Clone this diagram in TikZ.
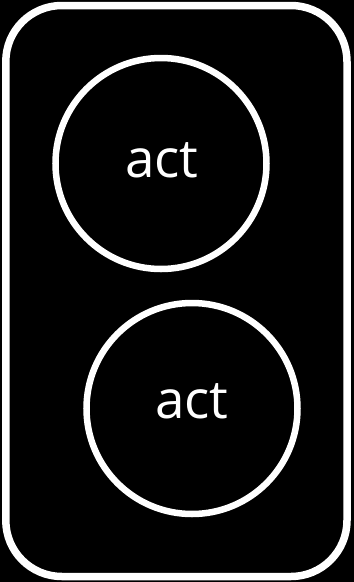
\documentclass[tikz,border=0pt]{standalone}
\usepackage{fontspec}
\setmainfont{Open Sans}
\begin{document}
\begin{tikzpicture}[x=1pt,y=-1pt,
  ring/.style={circle,draw=white,line width=6.5pt,minimum size=211pt,inner sep=0pt},
  lbl/.style={text=white,font=\fontsize{53}{60}\selectfont,anchor=base,inner sep=0pt}]
\fill[black] (0,0) rectangle (354,582);
\useasboundingbox (0,0) rectangle (354,582);
\draw[white,line width=7.5pt,rounded corners=56pt] (5.8,5.5) rectangle (347,576.5);
\node[ring] (c1) at (161,163.5) {};
\node[ring] (c2) at (192,408.5) {};
\node[lbl] (t1) at (162,177) {act};
\node[lbl] (t2) at (192,418) {act};
\end{tikzpicture}
\end{document}
